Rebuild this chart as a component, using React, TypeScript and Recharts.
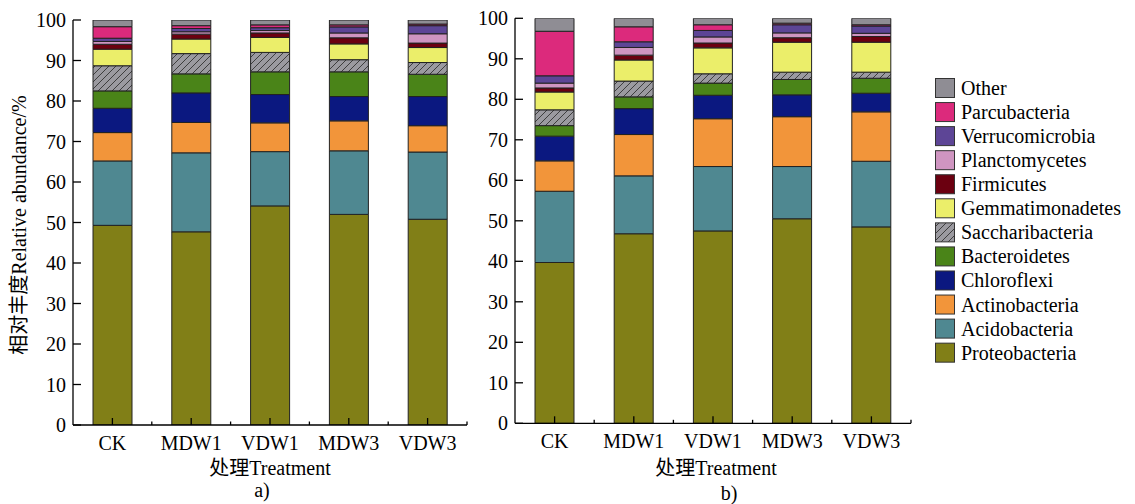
import React from 'react';
import { BarChart, Bar, XAxis, YAxis } from 'recharts';

const categories = ['CK', 'MDW1', 'VDW1', 'MDW3', 'VDW3'];
const yTicks = [0, 10, 20, 30, 40, 50, 60, 70, 80, 90, 100];

const phyla = [
  'Proteobacteria', 'Acidobacteria', 'Actinobacteria', 'Chloroflexi', 'Bacteroidetes',
  'Saccharibacteria', 'Gemmatimonadetes', 'Firmicutes', 'Planctomycetes',
  'Verrucomicrobia', 'Parcubacteria', 'Other',
];
const phylumColors = [
  '#817f17', '#4f8891', '#f2953a', '#0b1880', '#4a8418',
  'url(#hatch)', '#ebee6a', '#6b0010', '#cf95c1',
  '#5d4596', '#dc2a7c', '#8f8d94',
];

// Panel a) values (%), order: CK, MDW1, VDW1, MDW3, VDW3
const aProteobacteria = [49.3, 47.7, 54.1, 52.0, 50.8];
const aAcidobacteria = [15.9, 19.5, 13.4, 15.7, 16.6];
const aActinobacteria = [7.0, 7.5, 7.1, 7.4, 6.5];
const aChloroflexi = [6.0, 7.3, 7.0, 6.0, 7.2];
const aBacteroidetes = [4.3, 4.7, 5.6, 6.1, 5.5];
const aSaccharibacteria = [6.2, 5.0, 4.8, 3.0, 2.9];
const aGemmatimonadetes = [4.1, 3.6, 3.7, 3.9, 3.7];
const aFirmicutes = [1.2, 1.2, 1.1, 1.5, 1.1];
const aPlanctomycetes = [0.7, 0.6, 0.6, 1.2, 2.3];
const aVerrucomicrobia = [0.8, 0.8, 0.7, 1.5, 2.0];
const aParcubacteria = [2.85, 0.7, 0.7, 0.5, 0.4];
const aOther = [1.65, 1.4, 1.2, 1.2, 1.0];

// Panel b) values (%)
const bProteobacteria = [39.7, 46.8, 47.5, 50.5, 48.5];
const bAcidobacteria = [17.6, 14.3, 15.9, 12.9, 16.2];
const bActinobacteria = [7.5, 10.2, 11.8, 12.3, 12.2];
const bChloroflexi = [6.1, 6.4, 5.8, 5.4, 4.6];
const bBacteroidetes = [2.6, 2.9, 3.0, 3.8, 3.7];
const bSaccharibacteria = [3.9, 3.9, 2.3, 1.8, 1.5];
const bGemmatimonadetes = [4.4, 5.2, 6.4, 7.4, 7.4];
const bFirmicutes = [1.0, 1.2, 1.2, 1.1, 1.4];
const bPlanctomycetes = [1.2, 1.9, 1.5, 1.2, 0.8];
const bVerrucomicrobia = [1.8, 1.4, 1.6, 2.0, 1.8];
const bParcubacteria = [11.0, 3.7, 1.4, 0.4, 0.3];
const bOther = [3.2, 2.1, 1.6, 1.2, 1.6];

const seriesA = [aProteobacteria, aAcidobacteria, aActinobacteria, aChloroflexi, aBacteroidetes,
  aSaccharibacteria, aGemmatimonadetes, aFirmicutes, aPlanctomycetes, aVerrucomicrobia, aParcubacteria, aOther];
const seriesB = [bProteobacteria, bAcidobacteria, bActinobacteria, bChloroflexi, bBacteroidetes,
  bSaccharibacteria, bGemmatimonadetes, bFirmicutes, bPlanctomycetes, bVerrucomicrobia, bParcubacteria, bOther];

const buildRows = (series: number[][]) =>
  categories.map((c, i) => {
    const row: Record<string, string | number> = { name: c };
    phyla.forEach((p, k) => { row[p] = series[k][i]; });
    return row;
  });

const dataA = buildRows(seriesA);
const dataB = buildRows(seriesB);

const FONT = "'Liberation Serif', 'Times New Roman', 'Noto Sans CJK SC', serif";
const FS = 20;

const YTick = (props: any) => {
  const { x, y, payload } = props;
  return (
    <g>
      <line x1={x} x2={x + 8} y1={y} y2={y} stroke="#000" strokeWidth={1.3} />
      <text x={x - 7} y={y} dy="0.35em" textAnchor="end" fontSize={FS} fontFamily={FONT} fill="#000">
        {payload.value}
      </text>
    </g>
  );
};

const makeXTick = (band: number) => (props: any) => {
  const { x, y, payload } = props;
  return (
    <g>
      <line x1={x} x2={x} y1={y} y2={y - 7} stroke="#000" strokeWidth={1.3} />
      <line x1={x + band / 2} x2={x + band / 2} y1={y} y2={y - 3.5} stroke="#000" strokeWidth={1.3} />
      <text x={x} y={y + 25} textAnchor="middle" fontSize={FS} fontFamily={FONT} fill="#000">
        {payload.value}
      </text>
    </g>
  );
};

type PanelProps = {
  data: any[];
  width: number;
  height: number;
  yWidth: number;
  top: number;
  right: number;
  bottom: number;
  plotWidth: number;
};

const Panel = ({ data, width, height, yWidth, top, right, bottom, plotWidth }: PanelProps) => (
  <BarChart
    width={width}
    height={height}
    data={data}
    margin={{ top, right, bottom, left: 0 }}
    barSize={39}
  >
    <XAxis
      dataKey="name"
      interval={0}
      height={30}
      tickSize={0}
      tickMargin={0}
      tickLine={false}
      axisLine={{ stroke: '#000', strokeWidth: 1.3 }}
      tick={makeXTick(plotWidth / categories.length)}
    />
    <YAxis
      type="number"
      domain={[0, 100]}
      allowDataOverflow
      ticks={yTicks}
      interval={0}
      width={yWidth}
      tickSize={0}
      tickMargin={0}
      tickLine={false}
      axisLine={{ stroke: '#000', strokeWidth: 1.3 }}
      tick={<YTick />}
    />
    {phyla.map((p, k) => (
      <Bar
        key={p}
        dataKey={p}
        stackId="s"
        fill={phylumColors[k]}
        stroke="#222"
        strokeWidth={1}
        isAnimationActive={false}
      />
    ))}
  </BarChart>
);

const legendOrder = phyla.map((_, k) => k).reverse();

export default function App() {
  return (
    <div style={{ position: 'absolute', left: 0, top: 0, width: 1135, height: 504, background: '#fff' }}>
      <svg width={0} height={0} style={{ position: 'absolute' }}>
        <defs>
          <pattern id="hatch" patternUnits="userSpaceOnUse" width={7} height={7}>
            <rect width={7} height={7} fill="#9b9aa0" />
            <path d="M-1,1 l2,-2 M0,7 l7,-7 M6,8 l2,-2" stroke="#333" strokeWidth={0.9} />
          </pattern>
        </defs>
      </svg>
      <div style={{ position: 'absolute', left: 0, top: 0 }}>
        <Panel data={dataA} width={480} height={504} yWidth={73} top={20} right={13} bottom={49} plotWidth={394} />
      </div>
      <div style={{ position: 'absolute', left: 440, top: 0 }}>
        <Panel data={dataB} width={695} height={504} yWidth={75} top={18.3} right={224} bottom={50.7} plotWidth={396} />
      </div>
      <svg width={1135} height={504} style={{ position: 'absolute', left: 0, top: 0, pointerEvents: 'none' }}>
        <text
          transform="translate(26,225) rotate(-90)"
          textAnchor="middle"
          fontSize={FS}
          fontFamily={FONT}
          fill="#000"
        >
          相对丰度Relative abundance/%
        </text>
        <text x={270} y={475} textAnchor="middle" fontSize={FS} fontFamily={FONT} fill="#000">处理Treatment</text>
        <text x={262} y={497} textAnchor="middle" fontSize={FS} fontFamily={FONT} fill="#000">a)</text>
        <text x={716} y={475} textAnchor="middle" fontSize={FS} fontFamily={FONT} fill="#000">处理Treatment</text>
        <text x={729} y={500} textAnchor="middle" fontSize={FS} fontFamily={FONT} fill="#000">b)</text>
        {legendOrder.map((k, i) => (
          <g key={phyla[k]}>
            <rect x={935.5} y={78.5 + i * 24.06} width={19} height={19} fill={phylumColors[k]} stroke="#333" strokeWidth={1} />
            <text x={961} y={88 + i * 24.06} dy="0.35em" fontSize={FS} fontFamily={FONT} fill="#000">
              {phyla[k]}
            </text>
          </g>
        ))}
      </svg>
    </div>
  );
}
